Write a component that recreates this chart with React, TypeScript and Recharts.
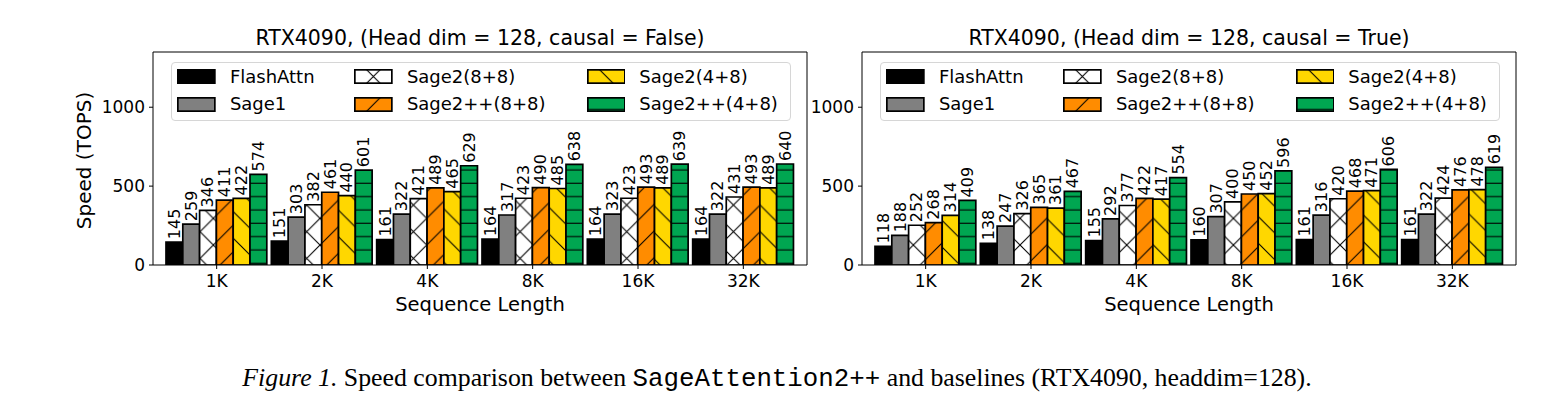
import React from 'react'
import { BarChart, Bar, XAxis, YAxis, Legend, LabelList, Label, CartesianGrid } from 'recharts'

const categories = ['1K', '2K', '4K', '8K', '16K', '32K']
const seriesNames = ['FlashAttn', 'Sage1', 'Sage2(8+8)', 'Sage2++(8+8)', 'Sage2(4+8)', 'Sage2++(4+8)']

// causal = False
const flashNC = [145, 151, 161, 164, 164, 164]
const sage1NC = [259, 303, 322, 317, 323, 322]
const sage2a88NC = [346, 382, 421, 423, 423, 431]
const sage2pp88NC = [411, 461, 489, 490, 493, 493]
const sage2a48NC = [422, 440, 465, 485, 489, 489]
const sage2pp48NC = [574, 601, 629, 638, 639, 640]

// causal = True
const flashC = [118, 138, 155, 160, 161, 161]
const sage1C = [188, 247, 292, 307, 316, 322]
const sage2a88C = [252, 326, 377, 400, 420, 424]
const sage2pp88C = [268, 365, 422, 450, 468, 476]
const sage2a48C = [314, 361, 417, 452, 471, 478]
const sage2pp48C = [409, 467, 554, 596, 606, 619]

const yTicks = [0, 500, 1000]

// styling, kept apart from the numbers
const fills = ['#000000', '#808080', 'x', '/', '\\', '-']
const baseColors = ['#000000', '#808080', '#ffffff', '#ff8c00', '#ffd700', '#00a651']

const FONT = 'DejaVu Sans'
const P = 26.67 // diagonal hatch period
const HP = 13.33 // horizontal hatch period
const Y_AXIS_W = 60
const TOP = 52

function Hatches({ prefix, ox = 0, oy = 0 }: { prefix: string; ox?: number; oy?: number }) {
  const line = { stroke: '#000', strokeWidth: 1.1, fill: 'none' }
  return (
    <defs>
      <pattern id={`${prefix}-x`} patternUnits="userSpaceOnUse" width={P} height={P} x={ox} y={oy}>
        <rect width={P} height={P} fill={baseColors[2]} />
        <path d={`M0,0L${P},${P}M0,${P}L${P},0`} {...line} />
      </pattern>
      <pattern id={`${prefix}-f`} patternUnits="userSpaceOnUse" width={P} height={P} x={ox} y={oy}>
        <rect width={P} height={P} fill={baseColors[3]} />
        <path d={`M0,${P}L${P},0M-1,1L1,-1M${P - 1},${P + 1}L${P + 1},${P - 1}`} {...line} />
      </pattern>
      <pattern id={`${prefix}-b`} patternUnits="userSpaceOnUse" width={P} height={P} x={ox} y={oy}>
        <rect width={P} height={P} fill={baseColors[4]} />
        <path d={`M0,0L${P},${P}M-1,${P - 1}L1,${P + 1}M${P - 1},-1L${P + 1},1`} {...line} />
      </pattern>
      <pattern id={`${prefix}-h`} patternUnits="userSpaceOnUse" width={10} height={HP} x={0} y={oy}>
        <rect width={10} height={HP} fill={baseColors[5]} />
        <path d={`M-1,5L11,5`} {...line} />
      </pattern>
    </defs>
  )
}

function fillFor(prefix: string, k: number) {
  const f = fills[k]
  if (f === 'x') return `url(#${prefix}-x)`
  if (f === '/') return `url(#${prefix}-f)`
  if (f === '\\') return `url(#${prefix}-b)`
  if (f === '-') return `url(#${prefix}-h)`
  return f
}

function Swatch({ prefix, k }: { prefix: string; k: number }) {
  const w = 38.7
  const h = 15
  const id = `${prefix}-lg`
  return (
    <svg width={w} height={h} style={{ display: 'block', flex: 'none' }}>
      <Hatches prefix={id} ox={w / 2 - P / 2} oy={k === 5 ? 1 : h / 2 - P / 2} />
      <rect x={0.85} y={0.85} width={w - 1.7} height={h - 1.7} fill={fillFor(id, k)} stroke="#000" strokeWidth={1.7} />
    </svg>
  )
}

function LegendBox({ prefix }: { prefix: string }) {
  const colX = [5.6, 182.6, 415]
  const rowTop = [4, 31.5]
  return (
    <div
      style={{
        width: 620,
        height: 59.3,
        border: '1px solid #d6d6d6',
        borderRadius: 4,
        background: '#fff',
        boxSizing: 'border-box',
        position: 'relative',
        fontFamily: FONT,
        fontSize: 18,
        color: '#000',
      }}
    >
      {seriesNames.map((name, k) => (
        <div
          key={name}
          style={{
            position: 'absolute',
            left: colX[Math.floor(k / 2)],
            top: rowTop[k % 2],
            height: 20,
            display: 'flex',
            alignItems: 'center',
            whiteSpace: 'nowrap',
          }}
        >
          <Swatch prefix={prefix} k={k} />
          <span style={{ marginLeft: 14, lineHeight: '20px' }}>{name}</span>
        </div>
      ))}
    </div>
  )
}

const renderValue = (props: any) => {
  const { x, y, width, value } = props
  const cx = Number(x) + Number(width) / 2
  const ty = Number(y) - 3
  return (
    <text
      x={cx}
      y={ty}
      transform={`rotate(-90 ${cx} ${ty})`}
      fontSize={16}
      fontFamily={FONT}
      fill="#000"
      dominantBaseline="central"
    >
      {value}
    </text>
  )
}

function Panel({
  prefix,
  title,
  values,
  left,
  width,
  marginLeft,
  marginRight,
  showYLabel,
}: {
  prefix: string
  title: string
  values: number[][]
  left: number
  width: number
  marginLeft: number
  marginRight: number
  showYLabel: boolean
}) {
  const rows = categories.map((c, i) => {
    const r: Record<string, string | number> = { seq: c }
    values.forEach((v, k) => (r[`s${k}`] = v[i]))
    return r
  })
  const tick = { fontSize: 17, fill: '#000', fontFamily: FONT }
  const axisStroke = { stroke: '#000', strokeWidth: 1 }
  const plotLeft = marginLeft + Y_AXIS_W
  const plotRight = width - marginRight

  return (
    <div style={{ position: 'absolute', left, top: 0, width, height: 330 }}>
      <svg width={width} height={TOP} style={{ position: 'absolute', left: 0, top: 0 }}>
        <text x={(plotLeft + plotRight) / 2} y={TOP - 7} textAnchor="middle" fontSize={20.5} fontFamily={FONT} fill="#000">
          {title}
        </text>
      </svg>
      <BarChart
        width={width}
        height={330}
        data={rows}
        margin={{ top: TOP, left: marginLeft, right: marginRight, bottom: 5 }}
        barSize={16.8}
        barGap={0}
      >
        <Hatches prefix={prefix} oy={5} />
        <CartesianGrid
          stroke="#000"
          strokeWidth={1}
          strokeDasharray=""
          horizontalCoordinatesGenerator={(p: any) => [p?.offset?.top ?? TOP]}
          verticalCoordinatesGenerator={(p: any) => [
            p?.offset ? p.offset.left + p.offset.width : plotRight,
          ]}
        />
        <XAxis
          dataKey="seq"
          padding={{ left: 11, right: 11 }}
          height={60}
          interval={0}
          tick={tick}
          tickSize={4}
          tickMargin={6}
          axisLine={axisStroke}
          tickLine={axisStroke}
        >
          <Label
            content={(p: any) => {
              const vb = p.viewBox
              return (
                <text x={vb.x + vb.width / 2} y={vb.y + 46} textAnchor="middle" fontSize={19.5} fontFamily={FONT} fill="#000">
                  Sequence Length
                </text>
              )
            }}
          />
        </XAxis>
        <YAxis
          domain={[0, 1350]}
          ticks={yTicks}
          width={Y_AXIS_W}
          tick={tick}
          tickSize={4}
          tickMargin={4}
          axisLine={axisStroke}
          tickLine={axisStroke}
          allowDataOverflow
        >
          {showYLabel && (
            <Label
              content={(p: any) => {
                const vb = p.viewBox
                const cx = vb.x + vb.width - 69
                const cy = vb.y + vb.height / 2 + 2
                return (
                  <text
                    x={cx}
                    y={cy}
                    transform={`rotate(-90 ${cx} ${cy})`}
                    textAnchor="middle"
                    dominantBaseline="central"
                    fontSize={20}
                    fontFamily={FONT}
                    fill="#000"
                  >
                    Speed (TOPS)
                  </text>
                )
              }}
            />
          )}
        </YAxis>
        {seriesNames.map((name, k) => (
          <Bar
            key={name}
            dataKey={`s${k}`}
            name={name}
            fill={fillFor(prefix, k)}
            stroke="#000"
            strokeWidth={1.7}
            isAnimationActive={false}
          >
            <LabelList dataKey={`s${k}`} content={renderValue} />
          </Bar>
        ))}
        <Legend
          layout="horizontal"
          align="center"
          verticalAlign="middle"
          content={() => <LegendBox prefix={prefix} />}
          wrapperStyle={{ left: plotLeft + 17.6, top: 61.7, width: 620, height: 59.3 }}
        />
      </BarChart>
    </div>
  )
}

export default function App() {
  return (
    <div style={{ position: 'absolute', left: 0, top: 0, width: 1555, height: 420, background: '#fff' }}>
      <Panel
        prefix="nc"
        title="RTX4090, (Head dim = 128, causal = False)"
        values={[flashNC, sage1NC, sage2a88NC, sage2pp88NC, sage2a48NC, sage2pp48NC]}
        left={0}
        width={830}
        marginLeft={93}
        marginRight={23}
        showYLabel
      />
      <Panel
        prefix="c"
        title="RTX4090, (Head dim = 128, causal = True)"
        values={[flashC, sage1C, sage2a88C, sage2pp88C, sage2a48C, sage2pp48C]}
        left={780}
        width={760}
        marginLeft={22}
        marginRight={24}
        showYLabel={false}
      />
      <svg width={1555} height={60} style={{ position: 'absolute', left: 0, top: 350 }}>
        <text x={777} y={36} textAnchor="middle" fontSize={25.8} fontFamily="Liberation Serif" fill="#000">
          <tspan fontStyle="italic">Figure 1.</tspan>
          <tspan> Speed comparison between </tspan>
          <tspan fontFamily="Liberation Mono">SageAttention2++</tspan>
          <tspan> and baselines (RTX4090, headdim=128).</tspan>
        </text>
      </svg>
    </div>
  )
}
